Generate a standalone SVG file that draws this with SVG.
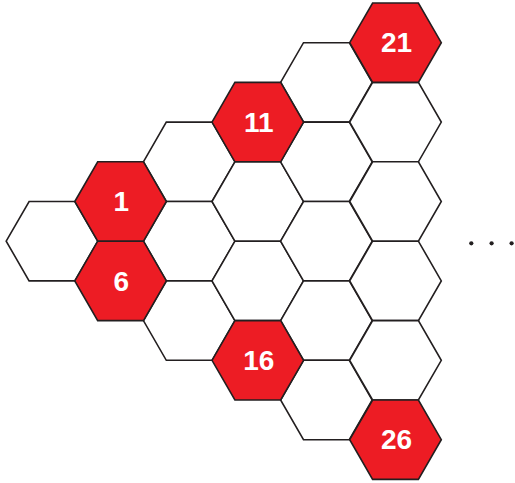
<svg xmlns="http://www.w3.org/2000/svg" xmlns:xlink="http://www.w3.org/1999/xlink" width="515" height="483" viewBox="0 0 515 483">
<style>
.w{fill:#ffffff;stroke:#231f20;stroke-width:1.6;stroke-linejoin:miter}
.r{fill:#ed1c24;stroke:#231f20;stroke-width:1.6;stroke-linejoin:miter}
.t{font-family:"Liberation Sans",Arial,sans-serif;font-weight:bold;font-size:28px;fill:#ffffff;text-anchor:middle}
.dot{fill:#231f20}
</style>
<defs>
<polygon id="hex" points="-45.8,0 -22.9,-39.7 22.9,-39.7 45.8,0 22.9,39.7 -22.9,39.7"/>
</defs>
<rect width="515" height="483" fill="#ffffff"/>
<g id="connectors"/>
<g id="h-c0-241"><use href="#hex" class="w" transform="translate(52,241.2)"/></g>
<g id="h-c2-161"><use href="#hex" class="w" transform="translate(189.2,161.8)"/></g>
<g id="h-c2-241"><use href="#hex" class="w" transform="translate(189.2,241.2)"/></g>
<g id="h-c2-320"><use href="#hex" class="w" transform="translate(189.2,320.6)"/></g>
<g id="h-c3-201"><use href="#hex" class="w" transform="translate(257.8,201.5)"/></g>
<g id="h-c3-280"><use href="#hex" class="w" transform="translate(257.8,280.9)"/></g>
<g id="h-c4-82"><use href="#hex" class="w" transform="translate(326.4,82.4)"/></g>
<g id="h-c4-161"><use href="#hex" class="w" transform="translate(326.4,161.8)"/></g>
<g id="h-c4-241"><use href="#hex" class="w" transform="translate(326.4,241.2)"/></g>
<g id="h-c4-320"><use href="#hex" class="w" transform="translate(326.4,320.6)"/></g>
<g id="h-c4-400"><use href="#hex" class="w" transform="translate(326.4,400)"/></g>
<g id="h-c5-122"><use href="#hex" class="w" transform="translate(395.5,122.1)"/></g>
<g id="h-c5-201"><use href="#hex" class="w" transform="translate(395.5,201.5)"/></g>
<g id="h-c5-280"><use href="#hex" class="w" transform="translate(395.5,280.9)"/></g>
<g id="h-c5-360"><use href="#hex" class="w" transform="translate(395.5,360.3)"/></g>
<g id="n1"><use href="#hex" class="r" transform="translate(120.6,201.5)"/><text class="t" x="121.3" y="211.3">1</text></g>
<g id="n6"><use href="#hex" class="r" transform="translate(120.6,280.9)"/><text class="t" x="121.3" y="290.7">6</text></g>
<g id="n11"><use href="#hex" class="r" transform="translate(257.8,122.1)"/><text class="t" x="258.8" y="131.9">11</text></g>
<g id="n16"><use href="#hex" class="r" transform="translate(257.8,360.3)"/><text class="t" x="258.8" y="370.1">16</text></g>
<g id="n21"><use href="#hex" class="r" transform="translate(395.5,42.7)"/><text class="t" x="396.5" y="52">21</text></g>
<g id="n26"><use href="#hex" class="r" transform="translate(395.5,439.7)"/><text class="t" x="396.5" y="449.3">26</text></g>
<g id="ellipsis">
<circle class="dot" cx="471.3" cy="243.3" r="2.1"/>
<circle class="dot" cx="491.6" cy="243.3" r="2.1"/>
<circle class="dot" cx="511.6" cy="243.3" r="2.1"/>
</g>
</svg>
